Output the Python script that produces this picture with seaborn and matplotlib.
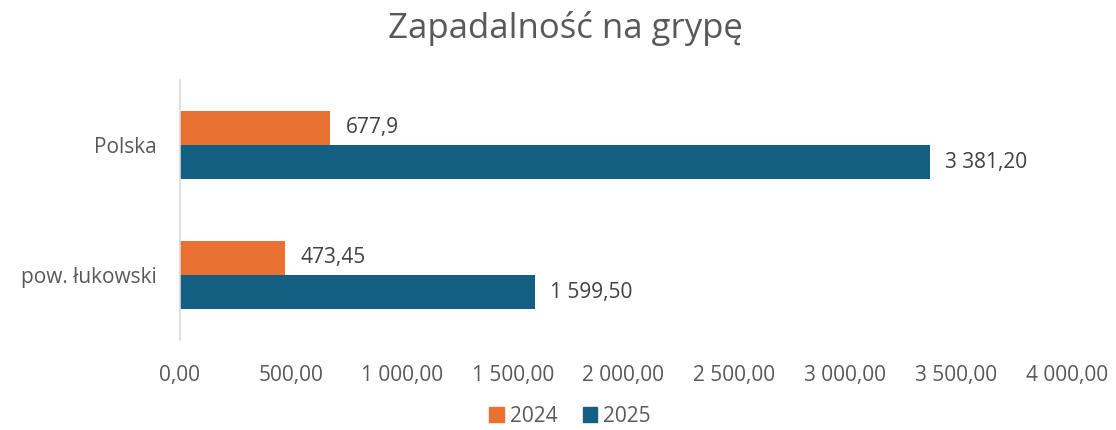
import pandas as pd
import matplotlib.pyplot as plt
import seaborn as sns
from matplotlib.ticker import FuncFormatter
from matplotlib.patches import Patch

categories = ["Polska", "pow. łukowski"]
years = ["2024", "2025"]
values_2024 = [677.9, 473.45]
values_2025 = [3381.20, 1599.50]
labels_2024 = ["677,9", "473,45"]
labels_2025 = ["3 381,20", "1 599,50"]
ticks = [0, 500, 1000, 1500, 2000, 2500, 3000, 3500, 4000]

df = pd.DataFrame({
    "region": categories * 2,
    "rok": [years[0]] * 2 + [years[1]] * 2,
    "wartosc": values_2024 + values_2025,
})

sns.set_theme(style="white")
plt.rcParams["font.family"] = ["Open Sans", "DejaVu Sans"]
grey = "#595959"
colors = ["#E97132", "#156082"]

fig = plt.figure(figsize=(11.16, 4.3), dpi=100)
ax = fig.add_axes([180 / 1116, 1 - 340 / 430, (1067 - 180) / 1116, 260 / 430])

sns.barplot(data=df, y="region", x="wartosc", hue="rok", orient="h",
            palette=colors, saturation=1, width=0.53, linewidth=0,
            ax=ax, legend=False)

for cont, labs in zip(ax.containers, [labels_2024, labels_2025]):
    ax.bar_label(cont, labels=labs, padding=11, fontsize=15, color="#404040")

ax.set_xlim(0, 4000)
ax.set_xticks(ticks)
ax.xaxis.set_major_formatter(FuncFormatter(
    lambda v, p: f"{v:,.2f}".replace(",", " ").replace(".", ",")))
ax.tick_params(axis="x", length=0, pad=18, labelsize=15, labelcolor=grey)
ax.tick_params(axis="y", length=0, pad=17, labelsize=15, labelcolor=grey)
ax.set_xlabel("")
ax.set_ylabel("")
for s in ["top", "right", "bottom"]:
    ax.spines[s].set_visible(False)
ax.spines["left"].set_color("#D9D9D9")
ax.spines["left"].set_linewidth(1.2)

fig.text(565 / 1116, 1 - 28 / 430, "Zapadalność na grypę", ha="center",
         va="center", fontsize=25, color=grey)

handles = [Patch(color=colors[0], label=years[0]), Patch(color=colors[1], label=years[1])]
fig.legend(handles=handles, loc="center", bbox_to_anchor=(570 / 1116, 1 - 416 / 430),
           ncol=2, frameon=False, fontsize=15, labelcolor=grey,
           handlelength=0.7, handleheight=0.7, columnspacing=1.2, handletextpad=0.3)

fig.savefig("out.png", dpi=100)
